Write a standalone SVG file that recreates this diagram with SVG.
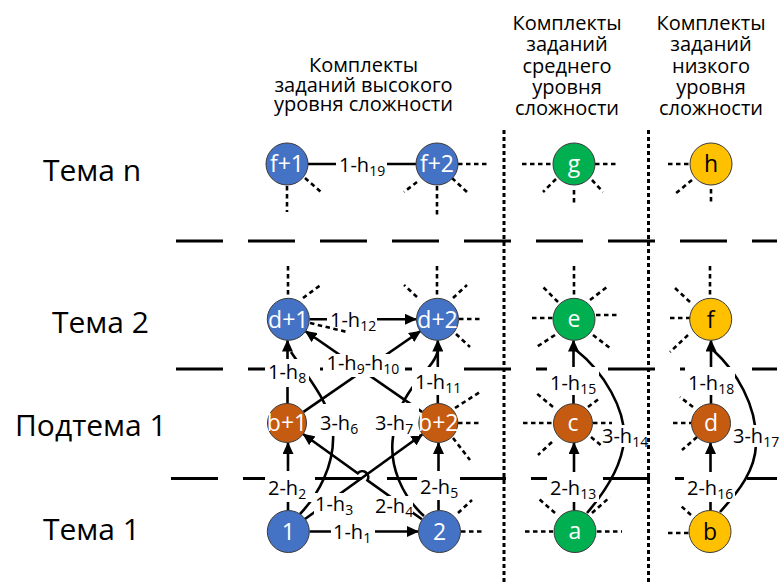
<svg xmlns="http://www.w3.org/2000/svg" width="781" height="583" viewBox="0 0 781 583">
<style>
.ln{stroke:#000;stroke-width:2.6;fill:none}
.band{stroke:#000;stroke-width:3;stroke-dasharray:47 25;fill:none}
.col{stroke:#000;stroke-width:3;stroke-dasharray:4 3;fill:none}
.sp{stroke:#000;stroke-width:2.6;stroke-dasharray:4.5 3.5;fill:none}
.bg{fill:#fff}
.lb{font-family:'Open Sans','Noto Sans',sans-serif;font-size:20px;fill:#000}
.sub{font-size:14px}
.hd{font-family:'Open Sans','Noto Sans',sans-serif;font-size:20px;fill:#000;text-anchor:middle}
.big{font-family:'Open Sans','Noto Sans',sans-serif;font-size:30px;fill:#000}
.nd circle{stroke:#3a3a3a;stroke-width:1}
.nt{font-family:'Open Sans','Noto Sans',sans-serif;font-size:23px;text-anchor:middle;fill:#fff}
.bl{fill:#4472C4}.or{fill:#C55A11}.gr{fill:#00B050}.ye{fill:#FFC000}
.dk{fill:#000}
</style>
<defs>
<marker id="arr" markerUnits="userSpaceOnUse" markerWidth="12" markerHeight="11" refX="11" refY="5.5" orient="auto"><path d="M0,0 L12,5.5 L0,11 Z" fill="#000"/></marker>
</defs>

<g id="headers">
<text class="hd" x="363.5" y="72">Комплекты</text>
<text class="hd" x="363.5" y="91.5">заданий высокого</text>
<text class="hd" x="363.5" y="110.5">уровня сложности</text>
<text class="hd" x="567" y="30">Комплекты</text>
<text class="hd" x="567" y="51">заданий</text>
<text class="hd" x="567" y="72.5">среднего</text>
<text class="hd" x="567" y="94">уровня</text>
<text class="hd" x="567" y="115">сложности</text>
<text class="hd" x="711" y="30">Комплекты</text>
<text class="hd" x="711" y="51">заданий</text>
<text class="hd" x="711" y="72.5">низкого</text>
<text class="hd" x="711" y="94">уровня</text>
<text class="hd" x="711" y="115">сложности</text>
</g>

<g id="row-labels">
<text class="big" x="43" y="181">Тема n</text>
<text class="big" x="52" y="333">Тема 2</text>
<text class="big" x="15" y="436">Подтема 1</text>
<text class="big" x="43" y="540">Тема 1</text>
</g>

<g id="bands">
<line class="band" x1="176" y1="241" x2="777" y2="241"/>
<line class="band" x1="176" y1="369" x2="777" y2="369"/>
<line class="band" x1="171" y1="478.5" x2="777" y2="478.5"/>
</g>

<g id="connectors">
<line class="ln" x1="308" y1="164" x2="416" y2="164"/>
<line class="ln" x1="309.5" y1="319.3" x2="416" y2="319.3" marker-end="url(#arr)"/>
<line class="ln" x1="287.5" y1="403.5" x2="287.5" y2="340.5" marker-end="url(#arr)"/>
<line class="ln" x1="437.8" y1="403.5" x2="437.8" y2="340.5" marker-end="url(#arr)"/>
<line class="ln" x1="303.5" y1="411.9" x2="420.2" y2="331.2" marker-end="url(#arr)"/>
<line class="ln" x1="422" y1="411.9" x2="305.6" y2="331.3" marker-end="url(#arr)"/>
<path class="ln" d="M300,514 C318,495 335,465 333,432 C331,405 310,380 291,352"/>
<path class="ln" d="M424,516 C402,496 389,466 393,437 C396,415 402,402 412,388 C422,374 436,362 438,350"/>
<line class="ln" x1="309.5" y1="531.5" x2="418" y2="531.5" marker-end="url(#arr)"/>
<line class="ln" x1="288" y1="510.5" x2="288" y2="443" marker-end="url(#arr)"/>
<line class="ln" x1="438.5" y1="510.5" x2="438.5" y2="443" marker-end="url(#arr)"/>
<line class="ln" x1="305" y1="519" x2="422.2" y2="434.5" marker-end="url(#arr)"/>
<path class="ln" d="M421.9,519.3 L367.4,480.3 A6,6 0 0 0 357.7,473.3 L303.4,434.3" marker-end="url(#arr)"/>
<line class="ln" x1="573.5" y1="404" x2="573.5" y2="340.5" marker-end="url(#arr)"/>
<line class="ln" x1="574" y1="510.5" x2="574" y2="443" marker-end="url(#arr)"/>
<path class="ln" d="M587,513 C605,492 622,465 624,440 C626,410 604,372 576,350"/>
<line class="ln" x1="711" y1="404" x2="711" y2="340.5" marker-end="url(#arr)"/>
<line class="ln" x1="710.5" y1="510.5" x2="710.5" y2="443" marker-end="url(#arr)"/>
<path class="ln" d="M720,512 C740,490 755,470 756,445 C758,405 735,370 713,350"/>
</g>

<g id="label-bgs">
<rect class="bg" x="336" y="154" width="51" height="22"/>
<rect class="bg" x="327" y="309" width="50" height="22"/>
<rect class="bg" x="265" y="359" width="44" height="28"/>
<rect class="bg" x="323" y="354" width="82" height="23"/>
<rect class="bg" x="412" y="367" width="50" height="28"/>
<rect class="bg" x="318" y="404" width="44" height="32"/>
<rect class="bg" x="373" y="403" width="46" height="33"/>
<rect class="bg" x="265" y="471" width="49" height="31"/>
<rect class="bg" x="314" y="493" width="42" height="22"/>
<rect class="bg" x="374" y="496" width="39" height="20"/>
<rect class="bg" x="417" y="471" width="43" height="29"/>
<rect class="bg" x="331" y="522" width="44" height="19"/>
<rect class="bg" x="547" y="367" width="52" height="28"/>
<rect class="bg" x="685" y="367" width="50" height="28"/>
<rect class="bg" x="600" y="425" width="48" height="22"/>
<rect class="bg" x="731" y="425" width="50" height="22"/>
<rect class="bg" x="547" y="472" width="52" height="30"/>
<rect class="bg" x="684" y="472" width="51" height="30"/>
</g>

<g id="columns">
<line class="col" x1="504" y1="130" x2="504" y2="583"/>
<line class="col" x1="648.5" y1="130" x2="648.5" y2="583"/>
</g>

<g id="spokes">
<path class="sp" d="M287,186V212 M305,178L322,193"/>
<path class="sp" d="M458,164H490 M437,186V218 M417,182L404,192 M452,178L468,193"/>
<path class="sp" d="M522,164H553 M595,164H618 M556,179L543,192 M574,190V204 M592,180L603,192"/>
<path class="sp" d="M668,164H690 M692,180L675,194 M711,189V204"/>
<path class="sp" d="M288,266V298 M303,298L322,284 M310,323L347,332"/>
<path class="sp" d="M437,266V298 M417,297L404,285 M453,298L467,285 M459,319H483 M456,334L470,347"/>
<path class="sp" d="M574,266V298 M558,302L543,287 M590,300L607,287 M532,318H553 M596,315H618 M555,335L535,348 M593,335L610,348"/>
<path class="sp" d="M710,266V298 M690,302L675,288 M670,318H690 M688,335L670,352"/>
<path class="sp" d="M455,408L480,392 M458,423H482 M453,438L470,460"/>
<path class="sp" d="M553,407L535,392 M588,407L600,398 M523,423H553 M593,423H612 M552,442L538,455 M591,437L603,447"/>
<path class="sp" d="M693,407L680,397 M673,423H691 M697,437L682,450"/>
<path class="sp" d="M458,513L472,500 M461,531.5H483"/>
<path class="sp" d="M555,513L538,498 M525,531.5H553 M597,531.5H622 M592,513L610,497"/>
<path class="sp" d="M691,515L680,505 M668,533H689"/>
</g>

<g id="labels">
<text class="lb" x="339" y="172">1-h<tspan class="sub" dy="4">19</tspan></text>
<text class="lb" x="330" y="327">1-h<tspan class="sub" dy="4">12</tspan></text>
<text class="lb" x="268" y="379">1-h<tspan class="sub" dy="4">8</tspan></text>
<text class="lb" x="326.5" y="370">1-h<tspan class="sub" dy="4">9</tspan><tspan dy="-4">-h</tspan><tspan class="sub" dy="4">10</tspan></text>
<text class="lb" x="415" y="389">1-h<tspan class="sub" dy="4">11</tspan></text>
<text class="lb" x="320" y="430">3-h<tspan class="sub" dy="4">6</tspan></text>
<text class="lb" x="375" y="430">3-h<tspan class="sub" dy="4">7</tspan></text>
<text class="lb" x="268" y="495">2-h<tspan class="sub" dy="4">2</tspan></text>
<text class="lb" x="315" y="511">1-h<tspan class="sub" dy="4">3</tspan></text>
<text class="lb" x="375" y="513">2-h<tspan class="sub" dy="4">4</tspan></text>
<text class="lb" x="420" y="493.5">2-h<tspan class="sub" dy="4">5</tspan></text>
<text class="lb" x="333" y="538.5">1-h<tspan class="sub" dy="4">1</tspan></text>
<text class="lb" x="550" y="389.5">1-h<tspan class="sub" dy="4">15</tspan></text>
<text class="lb" x="688" y="389.5">1-h<tspan class="sub" dy="4">18</tspan></text>
<text class="lb" x="602" y="443">3-h<tspan class="sub" dy="4">14</tspan></text>
<text class="lb" x="733" y="443">3-h<tspan class="sub" dy="4">17</tspan></text>
<text class="lb" x="550" y="495">2-h<tspan class="sub" dy="4">13</tspan></text>
<text class="lb" x="687" y="495">2-h<tspan class="sub" dy="4">16</tspan></text>
</g>

<g id="node-f1" class="nd"><circle class="bl" cx="287" cy="164" r="21"/><text class="nt" x="287" y="172">f+1</text></g>
<g id="node-f2" class="nd"><circle class="bl" cx="437" cy="164" r="21"/><text class="nt" x="437" y="172">f+2</text></g>
<g id="node-g" class="nd"><circle class="gr" cx="574" cy="164" r="21"/><text class="nt" x="574" y="171.5">g</text></g>
<g id="node-h" class="nd"><circle class="ye" cx="711" cy="164" r="21"/><text class="nt dk" x="711" y="172">h</text></g>
<g id="node-d1" class="nd"><circle class="bl" cx="288.3" cy="319.3" r="21"/><text class="nt" x="288.3" y="327.5">d+1</text></g>
<g id="node-d2" class="nd"><circle class="bl" cx="437.5" cy="319.3" r="21"/><text class="nt" x="437.5" y="327.5">d+2</text></g>
<g id="node-e" class="nd"><circle class="gr" cx="574" cy="319.3" r="21"/><text class="nt" x="574" y="326.5">e</text></g>
<g id="node-f" class="nd"><circle class="ye" cx="710.7" cy="319.3" r="21"/><text class="nt dk" x="710.7" y="327.5">f</text></g>
<g id="node-b1" class="nd"><circle class="or" cx="287" cy="423" r="19.5"/><text class="nt" x="287" y="431">b+1</text></g>
<g id="node-b2" class="nd"><circle class="or" cx="438.3" cy="423" r="19.5"/><text class="nt" x="438.3" y="431">b+2</text></g>
<g id="node-c" class="nd"><circle class="or" cx="573" cy="423.3" r="19.5"/><text class="nt" x="573" y="430.5">c</text></g>
<g id="node-d" class="nd"><circle class="or" cx="711" cy="423.3" r="19.5"/><text class="nt" x="711" y="431.3">d</text></g>
<g id="node-1" class="nd"><circle class="bl" cx="288.3" cy="531.5" r="21"/><text class="nt" x="288.3" y="539.8">1</text></g>
<g id="node-2" class="nd"><circle class="bl" cx="439.5" cy="531.5" r="21"/><text class="nt" x="439.5" y="539.8">2</text></g>
<g id="node-a" class="nd"><circle class="gr" cx="575" cy="531.5" r="21"/><text class="nt" x="575" y="538.8">a</text></g>
<g id="node-b" class="nd"><circle class="ye" cx="710" cy="531.5" r="21"/><text class="nt dk" x="710" y="539.8">b</text></g>
</svg>
